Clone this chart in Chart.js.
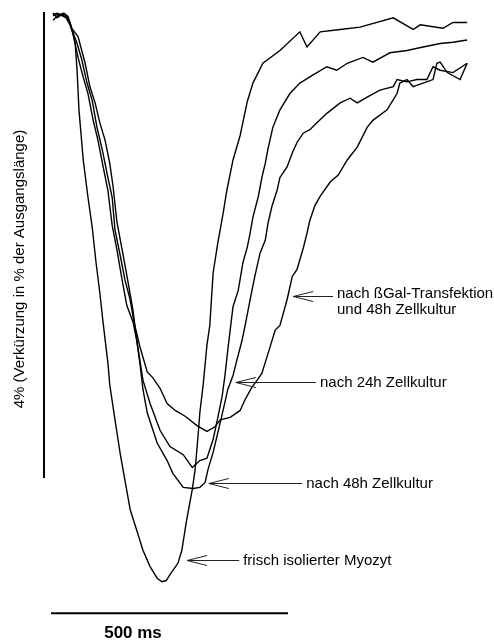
<!DOCTYPE html>
<html>
<head>
<meta charset="utf-8">
<script src="https://cdn.jsdelivr.net/npm/chart.js@4.4.0/dist/chart.umd.min.js"></script>
<style>
  body { margin: 0; background: #fff; }
  #wrap { width: 494px; height: 641px; position: relative; }
</style>
</head>
<body>
<div id="wrap"><canvas id="trace"></canvas></div>
<script>
// time in ms, shortening in % of resting length
var freshT = [4,13,23,32,40,46,51,55,59,68,78,87,95,103,110,120,124,135,146,156,167,181,194,209,224,234,243,251,268,276,285,293,298,304,310,314,321,329,335,342,352,363,371,384,399,414,426,447,483,525,540,568,610,652,722,764,779,827,848,878];
var freshS = [0.02,0.01,0.03,0.04,0.09,0.18,0.27,0.50,0.84,1.27,1.59,1.85,2.15,2.41,2.67,3.01,3.20,3.50,3.79,4.02,4.27,4.45,4.62,4.76,4.86,4.89,4.88,4.83,4.73,4.62,4.39,4.21,4.10,3.93,3.65,3.44,3.20,2.86,2.69,2.24,1.98,1.73,1.53,1.27,1.06,0.77,0.61,0.44,0.33,0.17,0.30,0.17,0.15,0.13,0.05,0.15,0.11,0.14,0.09,0.09];

var h24T = [4,19,32,40,46,57,68,78,89,99,110,120,129,139,150,160,173,181,194,209,230,251,279,298,314,329,342,352,361,367,373,378,384,395,405,414,420,426,437,445,452,458,468,483,504,525,553,582,603,625,658,679,715,751,785,821,848,878];
var h24S = [0.03,0.02,0.05,0.11,0.18,0.39,0.56,0.70,0.93,1.10,1.33,1.53,1.83,2.04,2.30,2.52,2.66,2.82,3.16,3.36,3.59,3.73,3.80,3.91,3.85,3.83,3.67,3.48,3.30,3.12,2.90,2.73,2.53,2.39,2.15,2.02,1.90,1.76,1.59,1.42,1.30,1.17,0.99,0.84,0.70,0.61,0.54,0.47,0.50,0.44,0.39,0.43,0.35,0.33,0.30,0.27,0.26,0.24];

var h48T = [4,15,27,36,44,57,72,82,93,103,114,124,131,139,150,160,173,181,188,194,203,224,245,257,279,300,314,325,331,342,352,363,373,384,392,403,411,420,430,441,452,458,466,477,483,498,509,519,532,546,561,582,610,631,646,667,694,722,730,751,772,793,806,821,848,878];
var h48S = [0.07,0.03,0.01,0.04,0.14,0.21,0.44,0.64,0.78,0.95,1.10,1.30,1.50,1.80,2.04,2.26,2.56,2.82,3.03,3.24,3.44,3.70,3.85,3.96,4.08,4.09,4.08,4.04,3.93,3.78,3.61,3.42,3.24,3.12,2.99,2.82,2.66,2.47,2.27,2.07,1.96,1.81,1.67,1.53,1.42,1.33,1.21,1.12,1.04,1.01,0.95,0.87,0.78,0.74,0.78,0.73,0.67,0.64,0.58,0.60,0.58,0.58,0.47,0.50,0.52,0.44];

var galT = [4,13,23,34,44,55,65,76,87,97,108,118,129,135,146,156,167,175,188,203,215,230,245,262,283,308,329,346,357,378,399,409,424,435,445,458,473,483,498,509,519,532,540,546,557,568,589,606,625,646,667,679,709,730,736,751,764,785,806,814,821,836,863,878];
var galS = [0.01,0.05,0.02,0.03,0.15,0.27,0.41,0.61,0.76,0.99,1.18,1.38,1.59,1.87,2.09,2.30,2.47,2.66,2.88,3.09,3.14,3.23,3.36,3.42,3.47,3.55,3.60,3.56,3.50,3.48,3.42,3.33,3.22,3.16,3.10,2.93,2.73,2.69,2.47,2.27,2.21,2.03,1.90,1.79,1.66,1.58,1.46,1.40,1.27,1.16,0.99,0.93,0.84,0.70,0.61,0.58,0.64,0.61,0.58,0.44,0.43,0.52,0.58,0.44];

// scale bars: 500 ms and 4 %
var barTimeMs = [0, 500];
var barShortening = [0, 4];

var yLabel = "4% (Verkürzung in % der Ausgangslänge)";
var xLabel = "500 ms";

// arrow labels: tip (t, s), arrow tail t, text lines
var notes = [
  { t: 511, s: 2.44, tail: 595, lines: ["nach ßGal-Transfektion", "und 48h Zellkultur"] },
  { t: 390, s: 3.18, tail: 559, lines: ["nach 24h Zellkultur"] },
  { t: 333, s: 4.04, tail: 530, lines: ["nach 48h Zellkultur"] },
  { t: 287, s: 4.70, tail: 397, lines: ["frisch isolierter Myozyt"] }
];

function pts(xs, ys) {
  var out = [];
  for (var i = 0; i < xs.length; i++) out.push({ x: xs[i], y: ys[i] });
  return out;
}

function trace(xs, ys) {
  return { data: pts(xs, ys), borderColor: "#000", borderWidth: 1.4, pointRadius: 0, fill: false, tension: 0 };
}

var labelPlugin = {
  id: "labels",
  afterDraw: function(chart) {
    var ctx = chart.ctx;
    var xs = chart.scales.x, ys = chart.scales.y;
    ctx.save();
    ctx.fillStyle = "#000";
    ctx.strokeStyle = "#222";
    ctx.lineWidth = 1;
    ctx.font = "15px 'Liberation Sans', Arial, sans-serif";
    ctx.textBaseline = "middle";
    notes.forEach(function(n) {
      var tx = xs.getPixelForValue(n.t), ty = Math.round(ys.getPixelForValue(n.s)) + 0.5;
      var ex = xs.getPixelForValue(n.tail);
      ctx.beginPath();
      ctx.moveTo(ex, ty); ctx.lineTo(tx, ty);
      ctx.moveTo(tx + 20, ty - 5); ctx.lineTo(tx, ty); ctx.lineTo(tx + 20, ty + 5);
      ctx.stroke();
      n.lines.forEach(function(line, i) {
        ctx.fillText(line, ex + 4, ty - (n.lines.length > 1 ? 3 : 0) + i * 16);
      });
    });
    // vertical scale label
    var vx = 20, vy = (ys.getPixelForValue(barShortening[0]) + ys.getPixelForValue(barShortening[1])) / 2 + 24;
    ctx.save();
    ctx.translate(vx, vy);
    ctx.rotate(-Math.PI / 2);
    ctx.textAlign = "center";
    ctx.fillText(yLabel, 0, 0);
    ctx.restore();
    // time scale label
    ctx.font = "bold 17px 'Liberation Sans', Arial, sans-serif";
    ctx.textAlign = "center";
    ctx.fillText(xLabel, 133, 633);
    ctx.restore();
  }
};

var bars = [
  { data: pts([-14.8, -14.8], barShortening), borderColor: "#000", borderWidth: 2, pointRadius: 0 },
  { data: pts(barTimeMs, [5.16, 5.16]), borderColor: "#000", borderWidth: 2, pointRadius: 0 }
];

new Chart(document.getElementById("trace"), {
  type: "line",
  data: {
    datasets: [
      trace(freshT, freshS),
      trace(h48T, h48S),
      trace(h24T, h24S),
      trace(galT, galS)
    ].concat(bars)
  },
  options: {
    responsive: true,
    maintainAspectRatio: false,
    animation: false,
    layout: { padding: 0 },
    plugins: { legend: { display: false }, tooltip: { enabled: false } },
    scales: {
      x: { type: "linear", display: false, min: -107.6, max: 934.6 },
      y: { type: "linear", display: false, reverse: true, min: -0.103, max: 5.399 }
    }
  },
  plugins: [labelPlugin]
});
</script>
</body>
</html>
